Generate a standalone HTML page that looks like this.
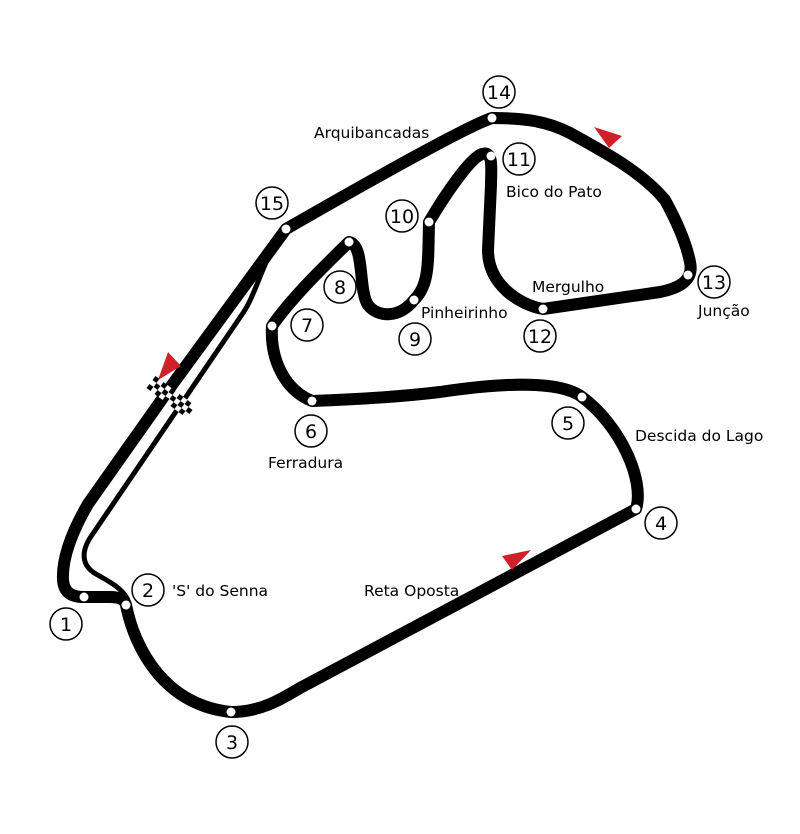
<!DOCTYPE html>
<html><head><style>html,body{margin:0;padding:0;background:#fff}svg{display:block}</style></head>
<body>
<svg width="800" height="834" viewBox="0 0 800 834" xmlns="http://www.w3.org/2000/svg" font-family="DejaVu Sans, Liberation Sans, sans-serif">
<!-- pit lane -->
<path d="M268,258 C258,280 252,300 243,313 L92,535 C80,552 82,566 96,574 C110,582 122,588 128,600" fill="none" stroke="#000" stroke-width="5"/>
<!-- track -->
<path d="M286,229 L172,385 L88,504 C70,535 62,560 63,580 C64,593 72,597 84,597 L110,597 C120,597 125,600 126,605 C135,650 165,705 231,712 C260,712 280,700 300,688 L636,509 C645,480 620,425 582,397 C560,380 500,383 440,392 C390,398 340,400 312,401 C285,390 270,360 272,326 C290,300 320,270 349,242 C365,245 358,290 368,305 C378,318 400,318 414,300 C430,285 428,260 429,222 C445,195 470,158 482,154 C494,150 491,170 491,185 L488,250 C488,285 520,305 543,309 L660,292 C680,288 694,280 690,262 C686,242 676,220 665,200 C640,170 600,150 570,133 C545,120 520,118 492,118 C470,125 380,175 286,229 Z" fill="none" stroke="#000" stroke-width="12" stroke-linejoin="round"/>
<!-- checkered flag -->
<g transform="translate(171,397) rotate(37)" fill="#000">
<rect x="-25" y="-7.5" width="5" height="5"/><rect x="-15" y="-7.5" width="5" height="5"/><rect x="-5" y="-7.5" width="5" height="5"/><rect x="5" y="-7.5" width="5" height="5"/><rect x="15" y="-7.5" width="5" height="5"/>
<rect x="-20" y="-2.5" width="5" height="5"/><rect x="-10" y="-2.5" width="5" height="5"/><rect x="0" y="-2.5" width="5" height="5"/><rect x="10" y="-2.5" width="5" height="5"/><rect x="20" y="-2.5" width="5" height="5"/>
<rect x="-25" y="2.5" width="5" height="5"/><rect x="-15" y="2.5" width="5" height="5"/><rect x="-5" y="2.5" width="5" height="5"/><rect x="5" y="2.5" width="5" height="5"/><rect x="15" y="2.5" width="5" height="5"/>
<rect x="-20" y="2.5" width="5" height="5" fill="#fff"/><rect x="-10" y="2.5" width="5" height="5" fill="#fff"/><rect x="0" y="2.5" width="5" height="5" fill="#fff"/><rect x="10" y="2.5" width="5" height="5" fill="#fff"/>
<rect x="-20" y="-7.5" width="5" height="5" fill="#fff"/><rect x="-10" y="-7.5" width="5" height="5" fill="#fff"/><rect x="0" y="-7.5" width="5" height="5" fill="#fff"/><rect x="10" y="-7.5" width="5" height="5" fill="#fff"/>
<rect x="-15" y="-2.5" width="5" height="5" fill="#fff"/><rect x="-5" y="-2.5" width="5" height="5" fill="#fff"/><rect x="5" y="-2.5" width="5" height="5" fill="#fff"/><rect x="15" y="-2.5" width="5" height="5" fill="#fff"/>
</g>
<!-- arrows -->
<polygon points="158,380 168,352 181,366" fill="#d0202a"/>
<polygon points="594,127 622,136 609,148" fill="#d0202a"/>
<polygon points="502,556 531,550 512,570" fill="#d0202a"/>
<!-- corner dots -->
<g fill="#fff">
<circle cx="84" cy="597" r="4.5"/><circle cx="126" cy="605" r="4.5"/><circle cx="231" cy="712" r="4.5"/><circle cx="636" cy="509" r="4.5"/><circle cx="582" cy="397" r="4.5"/><circle cx="312" cy="401" r="4.5"/><circle cx="272" cy="326" r="4.5"/><circle cx="349" cy="242" r="4.5"/><circle cx="414" cy="300" r="4.5"/><circle cx="429" cy="222" r="4.5"/><circle cx="491" cy="156" r="4.5"/><circle cx="543" cy="309" r="4.5"/><circle cx="688" cy="275" r="4.5"/><circle cx="492" cy="118" r="4.5"/><circle cx="286" cy="229" r="4.5"/>
</g>
<!-- number circles -->
<g fill="#fff" stroke="#000" stroke-width="1.5">
<circle cx="66" cy="624" r="16"/><circle cx="148" cy="590" r="16"/><circle cx="232" cy="742" r="16"/><circle cx="661" cy="523" r="16"/><circle cx="568" cy="423" r="16"/><circle cx="311" cy="431" r="16"/><circle cx="307" cy="325" r="16"/><circle cx="340" cy="287" r="16"/><circle cx="415" cy="339" r="16"/><circle cx="402" cy="216" r="16"/><circle cx="519" cy="159" r="16"/><circle cx="540" cy="336" r="16"/><circle cx="714" cy="282" r="16"/><circle cx="499" cy="92" r="16"/><circle cx="272" cy="203" r="16"/>
</g>
<g font-size="19" text-anchor="middle" fill="#000">
<text x="66" y="631">1</text><text x="148" y="597">2</text><text x="232" y="749">3</text><text x="661" y="530">4</text><text x="568" y="430">5</text><text x="311" y="438">6</text><text x="307" y="332">7</text><text x="340" y="294">8</text><text x="415" y="346">9</text><text x="402" y="223">10</text><text x="519" y="166">11</text><text x="540" y="343">12</text><text x="714" y="289">13</text><text x="499" y="99">14</text><text x="272" y="210">15</text>
</g>
<g font-size="15.5" fill="#000">
<text x="172" y="596">'S' do Senna</text>
<text x="364" y="596">Reta Oposta</text>
<text x="635" y="441">Descida do Lago</text>
<text x="268" y="468">Ferradura</text>
<text x="421" y="318">Pinheirinho</text>
<text x="532" y="292">Mergulho</text>
<text x="698" y="316">Junção</text>
<text x="506" y="197">Bico do Pato</text>
<text x="314" y="138">Arquibancadas</text>
</g>
</svg>
</body></html>
